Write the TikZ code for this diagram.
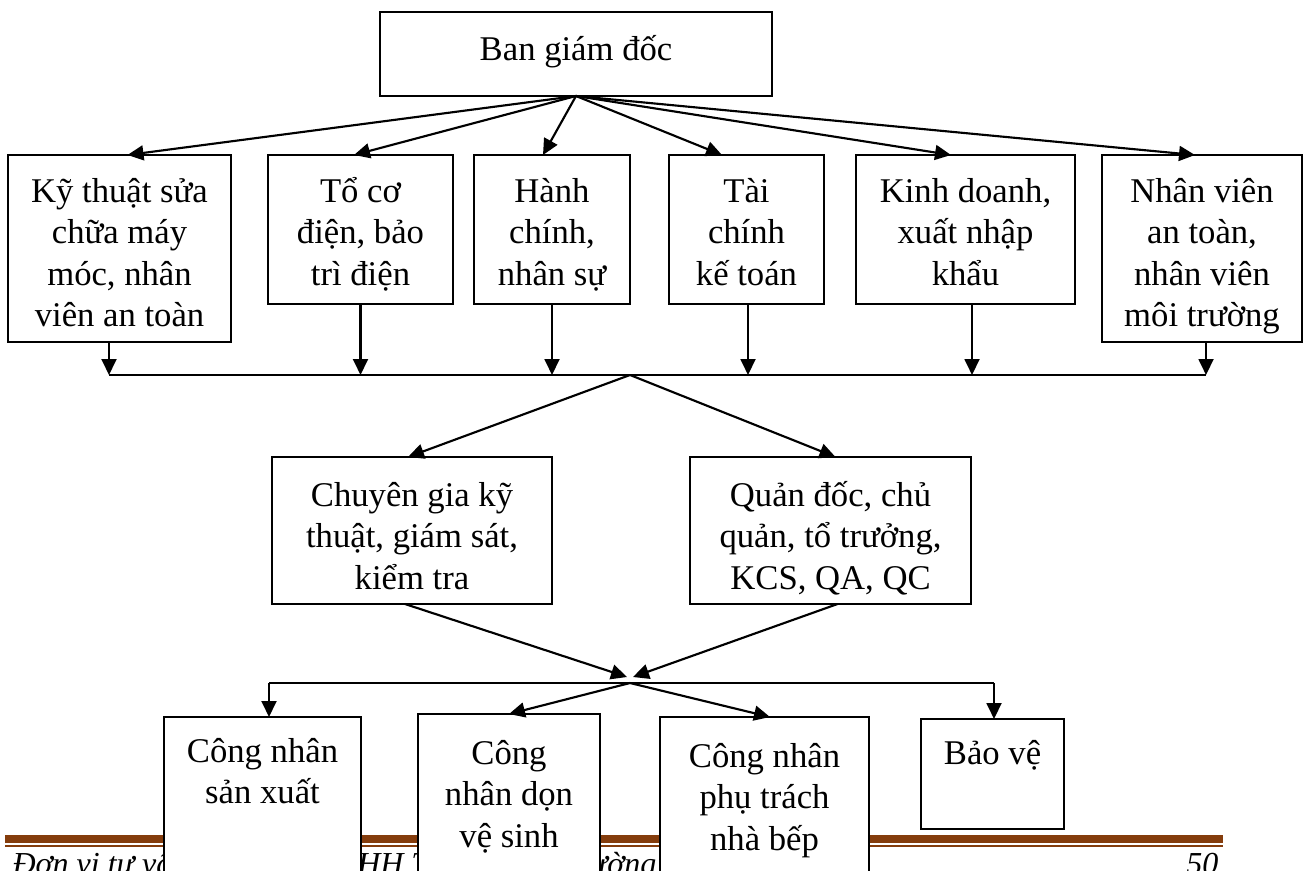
\documentclass[tikz,border=0pt]{standalone}
\usepackage{fontspec}
\setmainfont{Liberation Serif}
\usetikzlibrary{calc,arrows.meta}
\definecolor{footbrown}{RGB}{132,60,12}
% fixed first-line height so that every box text starts at the same depth
\newcommand\firstline{\rule{0pt}{14pt}}
\begin{document}
\begin{tikzpicture}[x=0.375pt,y=-0.375pt,
  orgbox/.style 2 args={draw=black,line width=0.8pt,fill=white,anchor=north west,
    inner sep=0pt,outer sep=0pt,minimum width=#1*0.375pt,minimum height=#2*0.375pt},
  boxtext/.style={anchor=north,inner sep=0pt,align=center,
    font=\fontsize{13pt}{15.4pt}\selectfont},
  arr/.style={line width=0.8pt,-{Triangle[length=6pt,width=5.6pt]}},
  link/.style={line width=0.8pt},
  foottext/.style={inner sep=0pt,font=\fontsize{12pt}{14pt}\selectfont\itshape}
]
\clip (0,0) rectangle (1310,870);

% page footer rule and caption
\fill[footbrown] (5,835) rectangle (1223,843);
\fill[footbrown] (5,845) rectangle (1223,847);
\node[foottext,anchor=base west] (foot) at (12,874) {Đơn vị tư vấn: Công ty TNHH Tư vấn Môi trường Nam Việt};
\node[foottext,anchor=base east] (pageno) at (1219,874) {50};

% boxes
\node[orgbox={392}{84}]  (top) at (380,12) {};
\node[orgbox={223}{187}] (b1) at (8,155) {};
\node[orgbox={185}{149}] (b2) at (268,155) {};
\node[orgbox={156}{149}] (b3) at (474,155) {};
\node[orgbox={155}{149}] (b4) at (669,155) {};
\node[orgbox={219}{149}] (b5) at (856,155) {};
\node[orgbox={200}{187}] (b6) at (1102,155) {};
\node[orgbox={280}{147}] (c1) at (272,457) {};
\node[orgbox={281}{147}] (c2) at (690,457) {};
\node[orgbox={197}{170}] (w1) at (164,717) {};
\node[orgbox={182}{173}] (w2) at (418,714) {};
\node[orgbox={209}{170}] (w3) at (660,717) {};
\node[orgbox={143}{110}] (w4) at (921,719) {};

% box texts
\node[boxtext] (ttop) at ($(top.north)+(0,11)$) {\firstline Ban giám đốc};
\node[boxtext] (tb1) at ($(b1.north)+(0,10)$) {\firstline Kỹ thuật sửa\\chữa máy\\móc, nhân\\viên an toàn};
\node[boxtext] (tb2) at ($(b2.north)+(0,10)$) {\firstline Tổ cơ\\điện, bảo\\trì điện};
\node[boxtext] (tb3) at ($(b3.north)+(0,10)$) {\firstline Hành\\chính,\\nhân sự};
\node[boxtext] (tb4) at ($(b4.north)+(0,10)$) {\firstline Tài\\chính\\kế toán};
\node[boxtext] (tb5) at ($(b5.north)+(0,10)$) {\firstline Kinh doanh,\\xuất nhập\\khẩu};
\node[boxtext] (tb6) at ($(b6.north)+(0,10)$) {\firstline Nhân viên\\an toàn,\\nhân viên\\môi trường};
\node[boxtext] (tc1) at ($(c1.north)+(0,12)$) {\firstline Chuyên gia kỹ\\thuật, giám sát,\\kiểm tra};
\node[boxtext] (tc2) at ($(c2.north)+(0,12)$) {\firstline Quản đốc, chủ\\quản, tổ trưởng,\\KCS, QA, QC};
\node[boxtext] (tw1) at ($(w1.north)+(0,8)$) {\firstline Công nhân\\sản xuất};
\node[boxtext] (tw2) at ($(w2.north)+(0,13)$) {\firstline Công\\nhân dọn\\vệ sinh};
\node[boxtext] (tw3) at ($(w3.north)+(0,13)$) {\firstline Công nhân\\phụ trách\\nhà bếp};
\node[boxtext] (tw4) at ($(w4.north)+(0,8)$) {\firstline Bảo vệ};

% fan from the board of directors
\draw[arr] (top.south) -- ($(b1.north)+(8,0)$);
\draw[arr] (top.south) -- ($(b2.north)+(-6.5,0)$);
\draw[arr] (top.south) -- ($(b3.north)+(-9,0)$);
\draw[arr] (top.south) -- ($(b4.north)+(-24.5,0)$);
\draw[arr] (top.south) -- ($(b5.north)+(-14.5,0)$);
\draw[arr] (top.south) -- ($(b6.north)+(-7,0)$);

% first collecting bar
\coordinate (bus1w) at (109,375);
\coordinate (bus1e) at (1206,375);
\coordinate (hub1) at (630,375);
\draw[link] (bus1w) -- (bus1e);
\draw[arr] (b1.south -| bus1w) -- (bus1w);
\draw[arr] (b2.south) coordinate (d2) -- (d2 |- bus1w);
\draw[arr] (b3.south) coordinate (d3) -- (d3 |- bus1w);
\draw[arr] ($(b4.south)+(1.5,0)$) coordinate (d4) -- (d4 |- bus1w);
\draw[arr] ($(b5.south)+(6.5,0)$) coordinate (d5) -- (d5 |- bus1w);
\draw[arr] (b6.south -| bus1e) -- (bus1e);

% to the middle level
\draw[arr] (hub1) -- ($(c1.north)+(-4,0)$);
\draw[arr] (hub1) -- ($(c2.north)+(5,0)$);
\coordinate (m1) at (627,677);
\coordinate (m2) at (633,677);
\draw[arr] ($(c1.south)+(-7,0)$) -- (m1);
\draw[arr] ($(c2.south)+(7,0)$) -- (m2);

% second distribution bar
\coordinate (bus2w) at (269,683);
\coordinate (bus2e) at (994,683);
\coordinate (hub2) at (630,683);
\draw[link] (bus2w) -- (bus2e);
\draw[arr] (bus2w) -- (bus2w |- w1.north);
\draw[arr] (bus2e) -- (bus2e |- w4.north);
\draw[arr] (hub2) -- (w2.north);
\draw[arr] (hub2) -- ($(w3.north)+(5.5,0)$);
\end{tikzpicture}
\end{document}
